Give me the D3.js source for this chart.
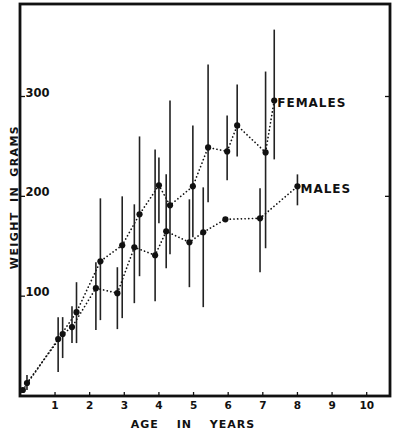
<!DOCTYPE html>
<html>
<head>
<meta charset="utf-8">
<script src="https://cdn.jsdelivr.net/npm/d3@7"></script>
<style>
  html, body { margin: 0; padding: 0; background: #fff; }
  svg text { font-family: "DejaVu Sans", sans-serif; font-weight: bold; fill: #111; }
</style>
</head>
<body>
<div class="chart"></div>
<script>
(function() {
  'use strict';

  // females
  const femaleAge = [0.07, 1.09, 1.62, 2.31, 2.94, 3.44, 4.0, 4.32, 4.98, 5.42, 5.97, 6.26, 7.08, 7.33],
        femaleWt  = [6, 57, 84, 135, 151, 182, 211, 191, 210, 249, 245, 271, 244, 296],
        femaleLo  = [null, 24, 53, 76, 78, 120, 173, 142, 159, 194, 216, 240, 148, 237],
        femaleHi  = [null, 79, 114, 198, 200, 260, 239, 296, 271, 332, 281, 312, 325, 367];

  // males
  const maleAge = [0.19, 1.22, 1.49, 2.18, 2.8, 3.29, 3.89, 4.21, 4.88, 5.28, 5.92, 6.92, 8.0],
        maleWt  = [13, 62, 69, 108, 103, 149, 141, 165, 154, 164, 177, 178, 210],
        maleLo  = [6, 38, 53, 66, 67, 93, 95, 128, 109, 89, null, 124, 191],
        maleHi  = [21, 79, 90, 134, 129, 192, 247, 222, 197, 209, null, 208, 222];

  const xTicks = [1, 2, 3, 4, 5, 6, 7, 8, 9, 10],
        yTicks = [100, 200, 300],
        rightTicks = [200, 300];

  let width = 396, height = 432,
      frame = { left: 20, top: 4, right: 390, bottom: 396 },

      x = d3.scaleLinear().domain([0, 10]).range([20.4, 366.7]),
      y = d3.scaleLinear().domain([0, 300]).range([396, 96.5]),

      svg = d3.select('.chart')
        .append('svg')
        .attr('width', width)
        .attr('height', height),

      toRows = (age, wt, lo, hi) => age.map((a, i) => ({ age: a, wt: wt[i], lo: lo[i], hi: hi[i] })),
      females = toRows(femaleAge, femaleWt, femaleLo, femaleHi),
      males   = toRows(maleAge, maleWt, maleLo, maleHi);

  // frame
  svg.append('rect')
    .attr('x', frame.left)
    .attr('y', frame.top)
    .attr('width', frame.right - frame.left)
    .attr('height', frame.bottom - frame.top)
    .attr('fill', 'none')
    .attr('stroke', '#111')
    .attr('stroke-width', 2.8);

  // bottom ticks + labels
  svg.selectAll('.xtick')
    .data(xTicks)
    .enter()
    .append('line')
      .attr('x1', d => x(d)).attr('x2', d => x(d))
      .attr('y1', frame.bottom).attr('y2', frame.bottom - 4)
      .attr('stroke', '#111').attr('stroke-width', 1.3);

  svg.selectAll('.xlabel')
    .data(xTicks)
    .enter()
    .append('text')
      .attr('x', d => x(d))
      .attr('y', 409)
      .attr('text-anchor', 'middle')
      .style('font-size', '10.5px')
      .text(d => d);

  // left ticks + labels (inside the frame)
  svg.selectAll('.ytick')
    .data(yTicks)
    .enter()
    .append('line')
      .attr('x1', frame.left).attr('x2', frame.left + 5)
      .attr('y1', d => y(d)).attr('y2', d => y(d))
      .attr('stroke', '#111').attr('stroke-width', 1.3);

  svg.selectAll('.ylabel')
    .data(yTicks)
    .enter()
    .append('text')
      .attr('x', frame.left + 5.5)
      .attr('y', d => y(d))
      .style('font-size', '11.5px')
      .text(d => d);

  // right side ticks
  svg.selectAll('.rtick')
    .data(rightTicks)
    .enter()
    .append('line')
      .attr('x1', frame.right - 5).attr('x2', frame.right)
      .attr('y1', d => y(d)).attr('y2', d => y(d))
      .attr('stroke', '#111').attr('stroke-width', 1.3);

  // axis titles
  svg.append('text')
    .attr('x', 193)
    .attr('y', 428)
    .attr('text-anchor', 'middle')
    .style('font-size', '11px')
    .style('letter-spacing', '1px')
    .style('word-spacing', '13px')
    .text('AGE IN YEARS');

  svg.append('text')
    .attr('transform', 'translate(18,197) rotate(-90)')
    .attr('text-anchor', 'middle')
    .style('font-size', '11px')
    .style('letter-spacing', '1.4px')
    .style('word-spacing', '4px')
    .text('WEIGHT IN GRAMS');

  let line = d3.line().x(d => x(d.age)).y(d => y(d.wt));

  [females, males].forEach(rows => {
    // error bars
    svg.append('g')
      .selectAll('line')
      .data(rows.filter(d => d.lo != null))
      .enter()
      .append('line')
        .attr('x1', d => x(d.age)).attr('x2', d => x(d.age))
        .attr('y1', d => y(d.lo)).attr('y2', d => y(d.hi))
        .attr('stroke', '#222')
        .attr('stroke-width', 1.6);

    // dotted connecting line
    svg.append('path')
      .datum(rows)
      .attr('d', line)
      .attr('fill', 'none')
      .attr('stroke', '#111')
      .attr('stroke-width', 1.7)
      .attr('stroke-linecap', 'round')
      .attr('stroke-dasharray', '0.1,3.6');

    // means
    svg.append('g')
      .selectAll('circle')
      .data(rows)
      .enter()
      .append('circle')
        .attr('cx', d => x(d.age))
        .attr('cy', d => y(d.wt))
        .attr('r', 3.1)
        .attr('fill', '#111');
  });

  // series labels
  let lastF = females[females.length - 1],
      lastM = males[males.length - 1];

  svg.append('text')
    .attr('x', x(lastF.age) + 3)
    .attr('y', y(lastF.wt) + 7)
    .style('font-size', '12px')
    .style('letter-spacing', '1px')
    .text('FEMALES');

  svg.append('text')
    .attr('x', x(lastM.age) + 3)
    .attr('y', y(lastM.wt) + 6.5)
    .style('font-size', '12px')
    .style('letter-spacing', '1px')
    .text('MALES');

})();
</script>
</body>
</html>
